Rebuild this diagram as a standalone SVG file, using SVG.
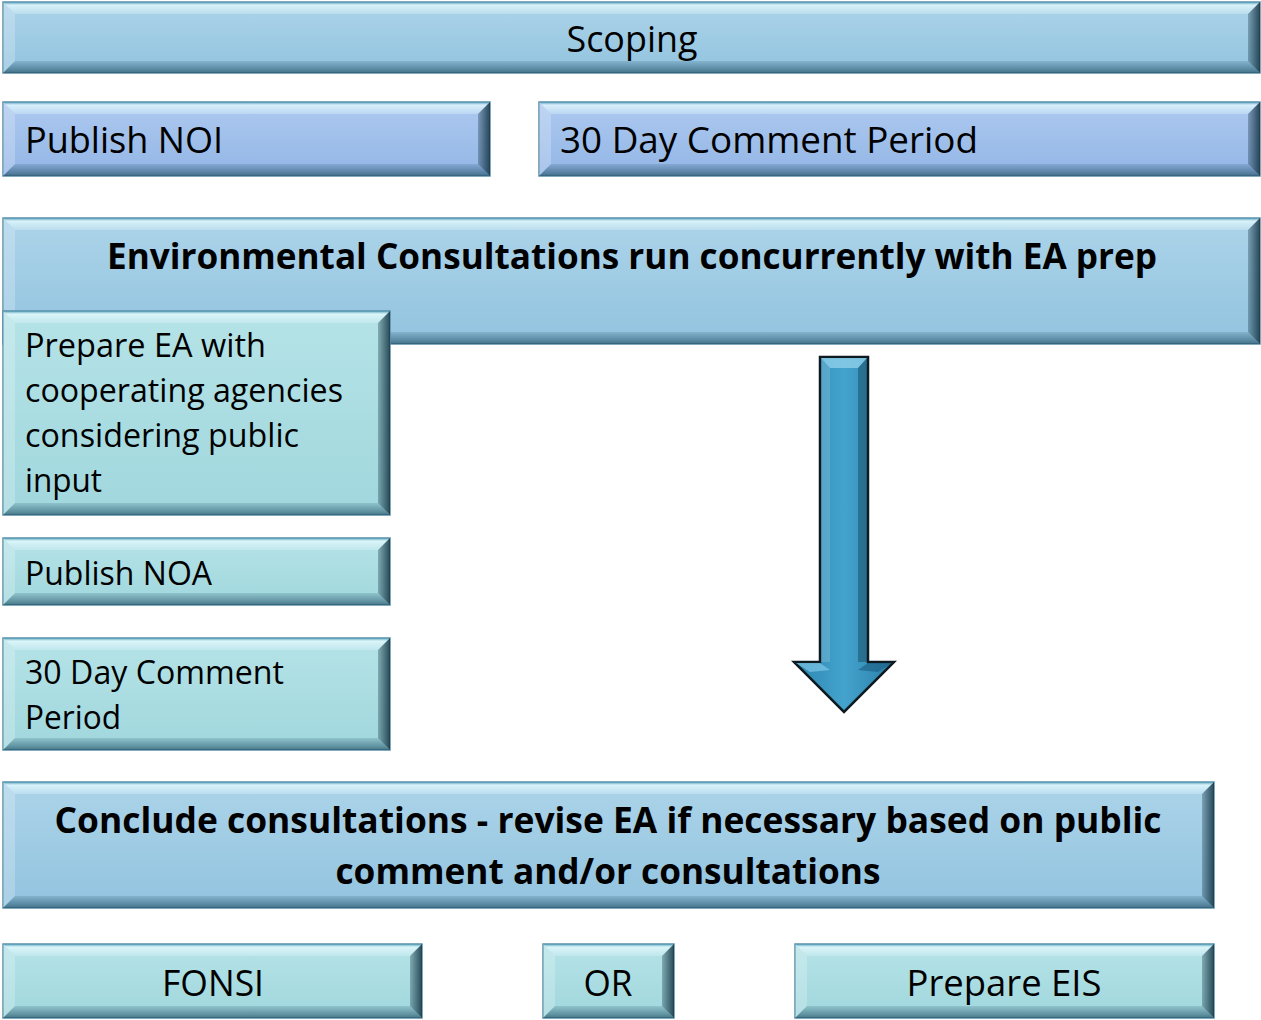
<svg xmlns="http://www.w3.org/2000/svg" width="1261" height="1020" viewBox="0 0 1261 1020">
<defs>
<linearGradient id="gBlue" x1="0" y1="0" x2="0" y2="1"><stop offset="0" stop-color="#acd4e9"/><stop offset="1" stop-color="#92c3df"/></linearGradient>
<linearGradient id="gLav" x1="0" y1="0" x2="0" y2="1"><stop offset="0" stop-color="#adc9ef"/><stop offset="1" stop-color="#93b6e6"/></linearGradient>
<linearGradient id="gTeal" x1="0" y1="0" x2="0" y2="1"><stop offset="0" stop-color="#b5e3e7"/><stop offset="1" stop-color="#a0d7dd"/></linearGradient>
<linearGradient id="gArrow" x1="0" y1="0" x2="1" y2="0"><stop offset="0" stop-color="#2c85b0"/><stop offset="0.5" stop-color="#44a3cd"/><stop offset="1" stop-color="#2a7fa8"/></linearGradient>
<linearGradient id="gTop" x1="0" y1="0" x2="0" y2="1"><stop offset="0" stop-color="#3f8fb0"/><stop offset="0.25" stop-color="#e8fcff"/><stop offset="1" stop-color="#d8f2fa" stop-opacity="0.5"/></linearGradient>
<linearGradient id="gBot" x1="0" y1="0" x2="0" y2="1"><stop offset="0" stop-color="#1f4d63" stop-opacity="0.15"/><stop offset="0.7" stop-color="#1f4d63" stop-opacity="0.5"/><stop offset="1" stop-color="#1f4d63" stop-opacity="0.7"/></linearGradient>
<linearGradient id="gRight" x1="0" y1="0" x2="1" y2="0"><stop offset="0" stop-color="#10303f" stop-opacity="0.3"/><stop offset="1" stop-color="#10303f" stop-opacity="0.85"/></linearGradient>
</defs>
<style>
.box{stroke:#5b8fa6;stroke-width:1.5}
.blue{fill:url(#gBlue)}
.lav{fill:url(#gLav)}
.teal{fill:url(#gTeal)}
.bt{fill:url(#gTop);opacity:0.75}
.bl{fill:#ffffff;opacity:0.22}
.bb{fill:url(#gBot)}
.br{fill:url(#gRight)}
text{font-family:"Open Sans","Noto Sans","Liberation Sans",sans-serif;fill:#000}
.t36{font-size:36px}
.t32{font-size:32px}
.b36{font-size:35px;font-weight:bold}
.arrow{fill:url(#gArrow);stroke:#0d1a20;stroke-width:2.5;stroke-linejoin:miter}
</style>

<g id="connectors">
  <g id="down-arrow">
    <path class="arrow" d="M820,357 H868 V662 H894 L844,712 L794,662 H820 Z"/>
    <polygon points="821,358 867,358 858,368 830,368" fill="#8fd0ea" opacity="0.8"/>
    <polygon points="821,358 830,368 830,662 821,662" fill="#ffffff" opacity="0.15"/>
    <polygon points="867,358 858,368 858,662 867,662" fill="#0a2a3a" opacity="0.35"/>
    <polygon points="796,663 820,663 830,670 810,672" fill="#7cc6e6" opacity="0.7"/>
    <polygon points="892,663 868,663 858,670 878,672" fill="#1b5d80" opacity="0.6"/>
  </g>
</g>

<g id="scoping">
  <rect class="box blue" x="3" y="2" width="1257" height="71"/>
  <polygon class="bt" points="3,2 1260,2 1248,14 15,14"/>
  <polygon class="bl" points="3,2 15,14 15,61 3,73"/>
  <polygon class="bb" points="3,73 15,61 1248,61 1260,73"/>
  <polygon class="br" points="1260,2 1260,73 1248,61 1248,14"/>
  <text class="t36" x="632" y="52" text-anchor="middle" textLength="131" lengthAdjust="spacingAndGlyphs">Scoping</text>
</g>

<g id="publish-noi">
  <rect class="box lav" x="3" y="102" width="487" height="74"/>
  <polygon class="bt" points="3,102 490,102 478,114 15,114"/>
  <polygon class="bl" points="3,102 15,114 15,164 3,176"/>
  <polygon class="bb" points="3,176 15,164 478,164 490,176"/>
  <polygon class="br" points="490,102 490,176 478,164 478,114"/>
  <text class="t36" x="25" y="153" textLength="198" lengthAdjust="spacingAndGlyphs">Publish NOI</text>
</g>

<g id="comment-period-1">
  <rect class="box lav" x="539" y="102" width="721" height="74"/>
  <polygon class="bt" points="539,102 1260,102 1248,114 551,114"/>
  <polygon class="bl" points="539,102 551,114 551,164 539,176"/>
  <polygon class="bb" points="539,176 551,164 1248,164 1260,176"/>
  <polygon class="br" points="1260,102 1260,176 1248,164 1248,114"/>
  <text class="t36" x="560" y="153" textLength="418" lengthAdjust="spacingAndGlyphs">30 Day Comment Period</text>
</g>

<g id="env-consultations">
  <rect class="box blue" x="3" y="218" width="1257" height="126"/>
  <polygon class="bt" points="3,218 1260,218 1248,230 15,230"/>
  <polygon class="bl" points="3,218 15,230 15,332 3,344"/>
  <polygon class="bb" points="3,344 15,332 1248,332 1260,344"/>
  <polygon class="br" points="1260,218 1260,344 1248,332 1248,230"/>
  <text class="b36" x="632" y="269" text-anchor="middle" textLength="1050" lengthAdjust="spacingAndGlyphs">Environmental Consultations run concurrently with EA prep</text>
</g>

<g id="prepare-ea">
  <rect class="box teal" x="3" y="311" width="387" height="204"/>
  <polygon class="bt" points="3,311 390,311 378,323 15,323"/>
  <polygon class="bl" points="3,311 15,323 15,503 3,515"/>
  <polygon class="bb" points="3,515 15,503 378,503 390,515"/>
  <polygon class="br" points="390,311 390,515 378,503 378,323"/>
  <text class="t32" x="25" y="357" textLength="241" lengthAdjust="spacingAndGlyphs">Prepare EA with</text>
  <text class="t32" x="25" y="402" textLength="318" lengthAdjust="spacingAndGlyphs">cooperating agencies</text>
  <text class="t32" x="25" y="447" textLength="274" lengthAdjust="spacingAndGlyphs">considering public</text>
  <text class="t32" x="25" y="492" textLength="77" lengthAdjust="spacingAndGlyphs">input</text>
</g>

<g id="publish-noa">
  <rect class="box teal" x="3" y="538" width="387" height="67"/>
  <polygon class="bt" points="3,538 390,538 378,550 15,550"/>
  <polygon class="bl" points="3,538 15,550 15,593 3,605"/>
  <polygon class="bb" points="3,605 15,593 378,593 390,605"/>
  <polygon class="br" points="390,538 390,605 378,593 378,550"/>
  <text class="t32" x="25" y="585" textLength="187" lengthAdjust="spacingAndGlyphs">Publish NOA</text>
</g>

<g id="comment-period-2">
  <rect class="box teal" x="3" y="638" width="387" height="112"/>
  <polygon class="bt" points="3,638 390,638 378,650 15,650"/>
  <polygon class="bl" points="3,638 15,650 15,738 3,750"/>
  <polygon class="bb" points="3,750 15,738 378,738 390,750"/>
  <polygon class="br" points="390,638 390,750 378,738 378,650"/>
  <text class="t32" x="25" y="684" textLength="259" lengthAdjust="spacingAndGlyphs">30 Day Comment</text>
  <text class="t32" x="25" y="729" textLength="96" lengthAdjust="spacingAndGlyphs">Period</text>
</g>

<g id="conclude">
  <rect class="box blue" x="3" y="782" width="1211" height="126"/>
  <polygon class="bt" points="3,782 1214,782 1202,794 15,794"/>
  <polygon class="bl" points="3,782 15,794 15,896 3,908"/>
  <polygon class="bb" points="3,908 15,896 1202,896 1214,908"/>
  <polygon class="br" points="1214,782 1214,908 1202,896 1202,794"/>
  <text class="b36" x="608" y="833" text-anchor="middle" textLength="1107" lengthAdjust="spacingAndGlyphs">Conclude consultations - revise EA if necessary based on public</text>
  <text class="b36" x="608" y="884" text-anchor="middle" textLength="545" lengthAdjust="spacingAndGlyphs">comment and/or consultations</text>
</g>

<g id="fonsi">
  <rect class="box teal" x="3" y="944" width="419" height="74"/>
  <polygon class="bt" points="3,944 422,944 410,956 15,956"/>
  <polygon class="bl" points="3,944 15,956 15,1006 3,1018"/>
  <polygon class="bb" points="3,1018 15,1006 410,1006 422,1018"/>
  <polygon class="br" points="422,944 422,1018 410,1006 410,956"/>
  <text class="t36" x="213" y="996" text-anchor="middle" textLength="102" lengthAdjust="spacingAndGlyphs">FONSI</text>
</g>

<g id="or">
  <rect class="box teal" x="543" y="944" width="131" height="74"/>
  <polygon class="bt" points="543,944 674,944 662,956 555,956"/>
  <polygon class="bl" points="543,944 555,956 555,1006 543,1018"/>
  <polygon class="bb" points="543,1018 555,1006 662,1006 674,1018"/>
  <polygon class="br" points="674,944 674,1018 662,1006 662,956"/>
  <text class="t36" x="608" y="996" text-anchor="middle" textLength="49" lengthAdjust="spacingAndGlyphs">OR</text>
</g>

<g id="prepare-eis">
  <rect class="box teal" x="795" y="944" width="419" height="74"/>
  <polygon class="bt" points="795,944 1214,944 1202,956 807,956"/>
  <polygon class="bl" points="795,944 807,956 807,1006 795,1018"/>
  <polygon class="bb" points="795,1018 807,1006 1202,1006 1214,1018"/>
  <polygon class="br" points="1214,944 1214,1018 1202,1006 1202,956"/>
  <text class="t36" x="1004" y="996" text-anchor="middle" textLength="195" lengthAdjust="spacingAndGlyphs">Prepare EIS</text>
</g>
</svg>
